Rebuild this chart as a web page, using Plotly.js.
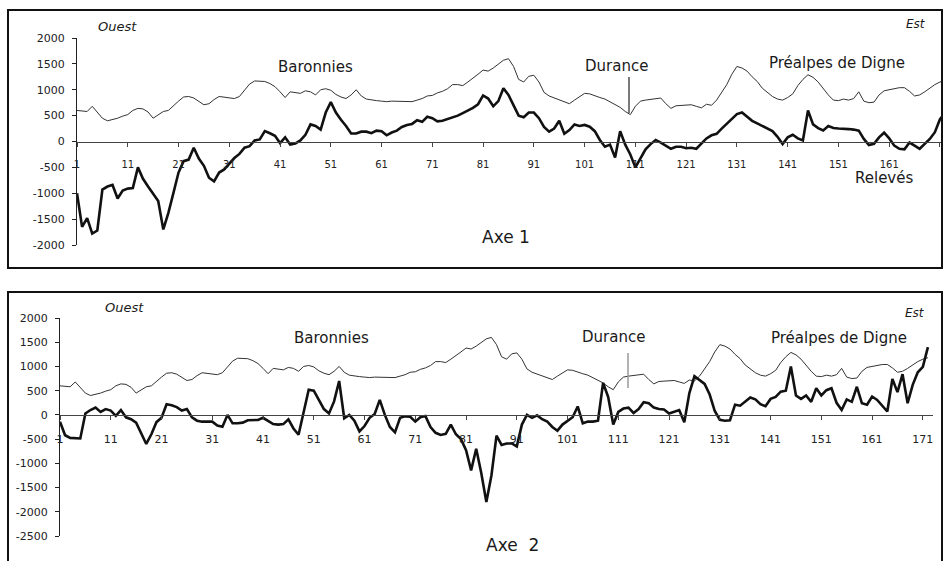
<!DOCTYPE html>
<html><head><meta charset="utf-8">
<script src="https://cdn.plot.ly/plotly-3.0.1.min.js"></script>
<style>html,body{margin:0;padding:0;background:#fff}</style>
</head><body><div id="chart" style="width:944px;height:561px"></div>
<script>
const stations = [1,2,3,4,5,6,7,8,9,10,11,12,13,14,15,16,17,18,19,20,
21,22,23,24,25,26,27,28,29,30,31,32,33,34,35,36,37,38,39,40,
41,42,43,44,45,46,47,48,49,50,51,52,53,54,55,56,57,58,59,60,
61,62,63,64,65,66,67,68,69,70,71,72,73,74,75,76,77,78,79,80,
81,82,83,84,85,86,87,88,89,90,91,92,93,94,95,96,97,98,99,100,
101,102,103,104,105,106,107,108,109,110,111,112,113,114,115,116,117,118,119,120,
121,122,123,124,125,126,127,128,129,130,131,132,133,134,135,136,137,138,139,140,
141,142,143,144,145,146,147,148,149,150,151,152,153,154,155,156,157,158,159,160,
161,162,163,164,165,166,167,168,169,170,171,172];

const altitude = [600,590,580,680,560,450,400,420,450,490,
520,600,640,630,570,450,520,580,600,700,
780,860,870,840,780,710,730,810,870,860,
840,830,870,1000,1110,1170,1170,1160,1120,1060,
960,850,960,950,930,980,960,900,1000,1020,
990,910,860,830,900,1000,880,820,800,790,
780,770,780,780,780,780,770,800,830,880,
890,940,970,1020,1100,1100,1080,1150,1220,1300,
1380,1360,1420,1500,1570,1600,1450,1200,1150,1260,
1280,1150,950,880,840,800,760,730,800,870,
930,920,880,850,820,770,720,660,580,520,
680,780,800,810,830,840,730,640,690,700,
710,710,680,650,720,700,800,950,1100,1300,
1450,1420,1360,1250,1160,1030,950,870,820,800,
850,920,1080,1200,1290,1240,1150,1020,900,800,
790,820,800,830,960,780,750,760,900,980,
1000,1020,1040,1040,970,880,900,960,1030,1100,
1150,1180];

const axe1 = [-1000,-1650,-1480,-1780,-1720,-930,-870,-840,-1100,-950,
-910,-900,-500,-720,-870,-1000,-1150,-1700,-1380,-994,
-600,-380,-350,-120,-330,-470,-700,-770,-600,-540,
-420,-320,-240,-120,-90,20,40,200,160,110,
-30,80,-60,-40,20,130,330,300,230,560,
760,560,420,300,155,155,190,190,160,210,
200,120,174,210,280,320,340,410,380,477,
450,390,400,430,470,500,550,600,650,720,
890,830,680,780,1030,900,700,500,470,560,
560,450,280,190,250,400,150,220,330,300,
320,285,200,30,-100,-60,-310,200,-60,-250,
-500,-320,-150,-50,30,-20,-80,-140,-100,-100,
-130,-120,-140,-40,60,120,148,250,342,450,
530,560,480,400,350,300,240,200,90,-50,
80,130,60,20,600,330,260,213,300,260,
250,250,240,230,210,50,-70,-45,80,170,
60,-80,-140,-150,-20,-80,-140,-45,50,180,
430,550];

const axe2 = [-140,-420,-475,-486,-486,30,100,150,60,120,
90,-20,100,-50,-90,-160,-380,-600,-400,-150,
-60,220,200,160,90,120,-50,-120,-140,-140,
-140,-220,-243,0,-174,-174,-160,-110,-104,-104,
-60,-120,-190,-200,-190,-90,-280,-410,50,520,
500,320,120,30,278,700,-69,0,-118,-340,
-230,-60,20,310,0,-250,-360,-60,-30,-40,
-139,-50,-25,-250,-370,-415,-390,-200,-400,-500,
-729,-1146,-700,-1200,-1800,-1250,-430,-620,-590,-590,
-650,-200,0,-60,-10,-90,-140,-250,-326,-200,
-120,-49,174,-174,-139,-139,-120,660,370,-200,
60,130,150,40,120,260,240,150,120,110,
30,70,100,-150,450,800,720,640,420,80,
-100,-120,-110,210,190,280,360,320,220,180,
330,370,480,500,1000,400,330,400,270,550,
400,510,550,250,100,320,270,580,240,210,
380,310,200,70,740,470,840,240,620,880,
990,1400];

const xTickVals = [1,11,21,31,41,51,61,71,81,91,101,111,121,131,141,151,161,171];
const xTickText = ['1','11','21','31','41','51','61','71','81','91','101','111','121','131','141','151','161','171'];
const y1TickVals = [2000,1500,1000,500,0,-500,-1000,-1500,-2000];
const y1TickText = ['2000','1500','1000','500','0','-500','-1000','-1500','-2000'];
const y2TickVals = [2000,1500,1000,500,0,-500,-1000,-1500,-2000,-2500];
const y2TickText = ['2000','1500','1000','500','0','-500','-1000','-1500','-2000','-2500'];

const W = 944, H = 561;
const px = v => v / W, py = v => 1 - v / H;
const FONT = 'DejaVu Sans, Liberation Sans, Arial, sans-serif';
const y1Dom = [py(245), py(38)], y1Range = [-2000, 2000];
const y2Dom = [py(536), py(318)], y2Range = [-2500, 2000];
const zeroPos = (d, r) => d[0] + (0 - r[0]) / (r[1] - r[0]) * (d[1] - d[0]);

const thin = {color: '#333', width: 1};
const thick = {color: '#111', width: 2.6};

const traces = [
  {x: stations, y: altitude, xaxis: 'x', yaxis: 'y', type: 'scatter', mode: 'lines', line: thin, hoverinfo: 'skip'},
  {x: stations, y: axe1, xaxis: 'x', yaxis: 'y', type: 'scatter', mode: 'lines', line: thick, hoverinfo: 'skip'},
  {x: stations, y: altitude, xaxis: 'x2', yaxis: 'y2', type: 'scatter', mode: 'lines', line: thin, hoverinfo: 'skip'},
  {x: stations, y: axe2, xaxis: 'x2', yaxis: 'y2', type: 'scatter', mode: 'lines', line: thick, hoverinfo: 'skip'}
];

function xAxis(dom, range, yDom, yRange, fs) {
  return {domain: dom, range: range, anchor: 'free', position: zeroPos(yDom, yRange),
    showline: true, linecolor: '#444', linewidth: 1.5, ticks: 'outside', ticklen: 4, tickcolor: '#444',
    tickvals: xTickVals, ticktext: xTickText, tickfont: {family: FONT, size: fs, color: '#222'},
    ticklabelstandoff: 9, showgrid: false, zeroline: false, fixedrange: true};
}
function yAxis(dom, range, anchor, vals, text) {
  return {domain: dom, range: range, anchor: anchor, showline: true, linecolor: '#222', linewidth: 1,
    ticks: 'outside', ticklen: 4, tickcolor: '#222', tickvals: vals, ticktext: text,
    tickfont: {family: FONT, size: 11, color: '#222'}, ticklabelstandoff: 5,
    showgrid: false, zeroline: false, fixedrange: true};
}

function ann(text, x, y, size, extra) {
  return Object.assign({text: text, xref: 'paper', yref: 'paper', x: px(x), y: py(y),
    xanchor: 'center', yanchor: 'middle', showarrow: false,
    font: {family: FONT, size: size, color: '#1a1a1a'}}, extra || {});
}

const layout = {
  width: W, height: H, margin: {l: 0, r: 0, t: 0, b: 0},
  paper_bgcolor: '#fff', plot_bgcolor: '#fff', showlegend: false,
  xaxis: xAxis([px(77), px(942)], [1, 171.4], y1Dom, y1Range, 10),
  yaxis: yAxis(y1Dom, y1Range, 'x', y1TickVals, y1TickText),
  xaxis2: xAxis([px(60), px(933)], [1, 173], y2Dom, y2Range, 11),
  yaxis2: yAxis(y2Dom, y2Range, 'x2', y2TickVals, y2TickText),
  annotations: [
    ann('<i>Ouest</i>', 117, 26, 13),
    ann('<i>Est</i>', 916, 24, 12),
    ann('Baronnies', 315, 67, 15),
    ann('Durance', 616, 66, 15),
    ann('Préalpes de Digne', 837, 63, 15),
    ann('Relevés', 884, 178, 15),
    ann('Axe 1', 506, 237, 17),
    ann('<i>Ouest</i>', 124, 307, 13),
    ann('<i>Est</i>', 915, 313, 12),
    ann('Baronnies', 331, 338, 15),
    ann('Durance', 613, 337, 15),
    ann('Préalpes de Digne', 839, 338, 15),
    ann('Axe\u00a0\u00a02', 512, 545, 17)
  ],
  shapes: [
    {type: 'rect', xref: 'paper', yref: 'paper', x0: px(8), x1: px(942), y0: py(268), y1: py(10),
      line: {color: '#111', width: 2}, fillcolor: 'rgba(0,0,0,0)'},
    {type: 'rect', xref: 'paper', yref: 'paper', x0: px(8), x1: px(942), y0: py(566), y1: py(292),
      line: {color: '#111', width: 2}, fillcolor: 'rgba(0,0,0,0)'},
    {type: 'line', xref: 'paper', yref: 'paper', x0: px(629), x1: px(629), y0: py(77), y1: py(113),
      line: {color: '#222', width: 1.2}},
    {type: 'line', xref: 'paper', yref: 'paper', x0: px(628), x1: px(628), y0: py(353), y1: py(388),
      line: {color: '#999', width: 1.5}}
  ]
};

Plotly.newPlot('chart', traces, layout, {staticPlot: true, displayModeBar: false});
</script>
</body></html>
